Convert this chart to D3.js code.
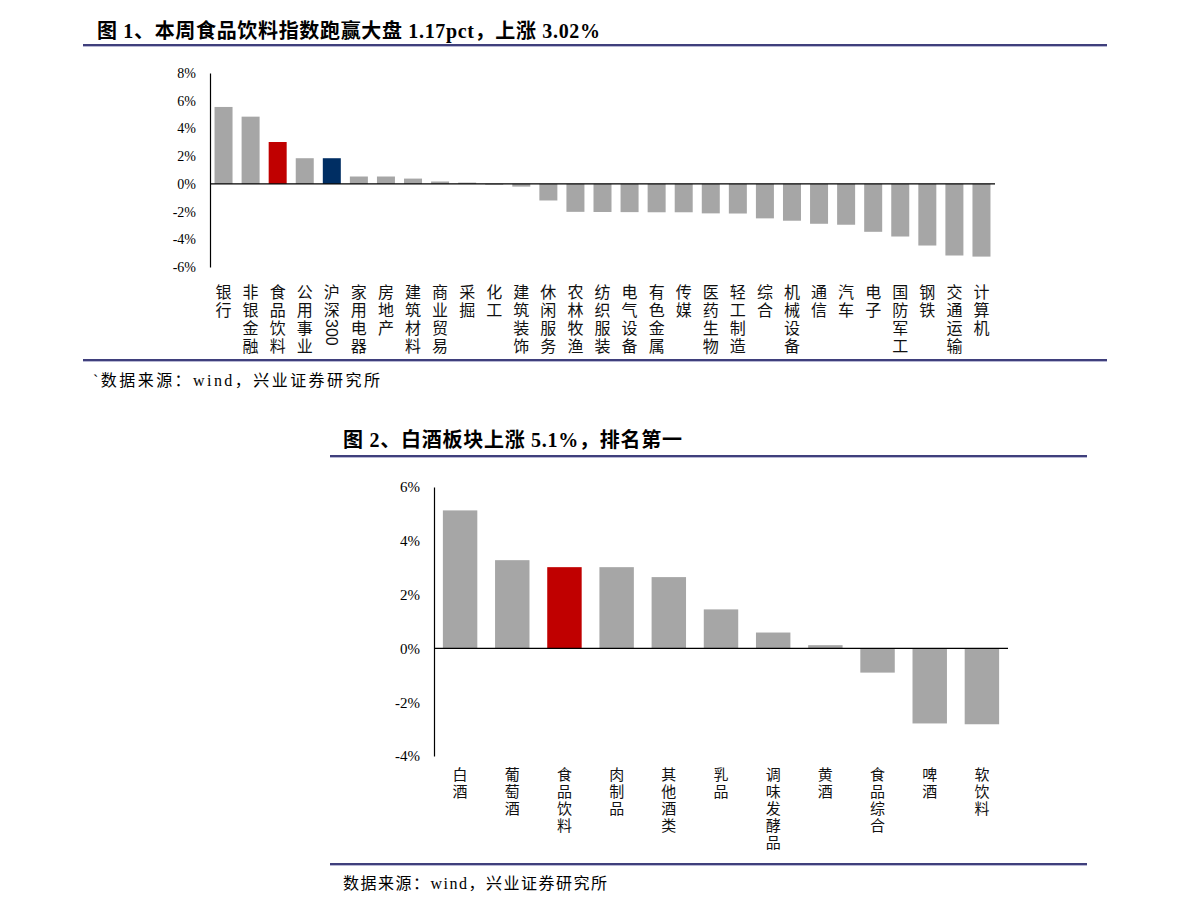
<!DOCTYPE html>
<html><head><meta charset="utf-8">
<script src="https://cdn.jsdelivr.net/npm/d3@7"></script>
<style>body{margin:0;background:#fff}</style>
</head><body><svg id="c" width="1191" height="912" xmlns="http://www.w3.org/2000/svg"></svg>
<script>
// ---------- Data ----------
const categories1 = ["银行","非银金融","食品饮料","公用事业","沪深300","家用电器","房地产","建筑材料","商业贸易","采掘","化工","建筑装饰","休闲服务","农林牧渔","纺织服装","电气设备","有色金属","传媒","医药生物","轻工制造","综合","机械设备","通信","汽车","电子","国防军工","钢铁","交通运输","计算机"];
const values1 = [5.55,4.85,3.02,1.85,1.85,0.53,0.53,0.38,0.17,0.09,-0.06,-0.2,-1.2,-2.02,-2.03,-2.04,-2.05,-2.05,-2.13,-2.14,-2.49,-2.66,-2.88,-2.95,-3.46,-3.8,-4.45,-5.17,-5.25];
const highlight1 = {"食品饮料":"#c00000","沪深300":"#002e63"};
const ticks1 = [-6,-4,-2,0,2,4,6,8];
const title1 = "图 1、本周食品饮料指数跑赢大盘 1.17pct，上涨 3.02%";
const source1 = "`数据来源：wind，兴业证券研究所";

const categories2 = ["白酒","葡萄酒","食品饮料","肉制品","其他酒类","乳品","调味发酵品","黄酒","食品综合","啤酒","软饮料"];
const values2 = [5.13,3.28,3.02,3.02,2.65,1.45,0.59,0.12,-0.9,-2.79,-2.82];
const highlight2 = {"食品饮料":"#c00000"};
const ticks2 = [-4,-2,0,2,4,6];
const title2 = "图 2、白酒板块上涨 5.1%，排名第一";
const source2 = "数据来源：wind，兴业证券研究所";

// ---------- Drawing ----------
const svg = d3.select("#c");
const GRAY = "#a6a6a6";
const RULE = "#3f3f7c";
const SERIF = "'Liberation Serif','Noto Sans CJK SC',serif";
const SANS = "'Noto Sans CJK SC','Liberation Sans',sans-serif";

function verticalLabel(g, label, x, y0, lh, fs) {
  const tokens = label.match(/\d+|./g);
  let yy = y0; // center of first cell
  tokens.forEach(tok => {
    if (/^\d+$/.test(tok)) {
      const t = g.append("text")
        .attr("transform", `translate(${x},${yy - lh/2 + 1}) rotate(90)`)
        .attr("dominant-baseline", "central")
        .attr("font-family", "'Liberation Sans',sans-serif")
        .attr("font-size", fs)
        .attr("fill", "#111")
        .text(tok);
      const len = t.node().getComputedTextLength();
      yy += len + 2;
    } else {
      g.append("text")
        .attr("x", x).attr("y", yy)
        .attr("text-anchor", "middle")
        .attr("dominant-baseline", "central")
        .attr("font-family", SANS)
        .attr("font-size", fs)
        .attr("fill", "#111")
        .text(tok);
      yy += lh;
    }
  });
}

function drawChart(cfg) {
  const g = svg.append("g");
  // title
  g.append("text").attr("x", cfg.titleX).attr("y", cfg.titleY)
    .attr("font-family", SERIF).attr("font-weight", "bold").attr("font-size", 20)
    .attr("textLength", cfg.titleW).attr("lengthAdjust", "spacing")
    .attr("fill", "#000").text(cfg.title);
  // rules
  [cfg.ruleTop, cfg.ruleBottom].forEach(ry => {
    g.append("line").attr("x1", cfg.ruleX1).attr("x2", cfg.ruleX2)
      .attr("y1", ry).attr("y2", ry).attr("stroke", RULE).attr("stroke-width", 2);
    g.append("line").attr("x1", cfg.ruleX1).attr("x2", cfg.ruleX2)
      .attr("y1", ry + 1.5).attr("y2", ry + 1.5).attr("stroke", "#b8b8d4").attr("stroke-width", 1);
  });
  // source
  g.append("text").attr("x", cfg.srcX).attr("y", cfg.srcY)
    .attr("font-family", SERIF).attr("font-size", 16)
    .attr("textLength", cfg.srcW).attr("lengthAdjust", "spacing")
    .attr("fill", "#000").text(cfg.source);

  const x = d3.scaleBand().domain(cfg.cats).range([cfg.x0, cfg.x1])
    .paddingInner(cfg.pad).paddingOuter(cfg.pad / 2);
  const y = d3.scaleLinear().domain(cfg.yDomain).range([cfg.yBottom, cfg.yTop]);

  // bars
  g.append("g").selectAll("rect").data(cfg.cats).join("rect")
    .attr("x", d => x(d))
    .attr("width", x.bandwidth())
    .attr("y", (d, i) => y(Math.max(0, cfg.vals[i])))
    .attr("height", (d, i) => Math.abs(y(cfg.vals[i]) - y(0)))
    .attr("fill", d => cfg.hl[d] || GRAY);

  // y axis
  const ax = g.append("g").attr("transform", `translate(${cfg.x0},0)`)
    .call(d3.axisLeft(y).tickValues(cfg.ticks).tickSize(0).tickSizeOuter(0)
      .tickPadding(cfg.tickPad).tickFormat(d => d + "%"));
  ax.select(".domain").attr("stroke", "#000").attr("stroke-width", 1.2);
  ax.selectAll("text").attr("font-family", SERIF).attr("font-size", cfg.tickFs).attr("fill", "#000");

  // zero line
  g.append("line").attr("x1", cfg.x0).attr("x2", cfg.x1)
    .attr("y1", y(0)).attr("y2", y(0)).attr("stroke", "#000").attr("stroke-width", 1.2);

  // category labels
  const lg = g.append("g");
  cfg.cats.forEach(c => verticalLabel(lg, c, x(c) + x.bandwidth() / 2, cfg.labelY, cfg.labelLh, cfg.labelFs));
}

drawChart({
  cats: categories1, vals: values1, hl: highlight1, ticks: ticks1,
  title: title1, titleX: 97, titleY: 38, titleW: 503,
  ruleX1: 83, ruleX2: 1107, ruleTop: 45, ruleBottom: 360,
  source: source1, srcX: 93, srcY: 386, srcW: 287,
  x0: 210, x1: 995, pad: 0.335,
  yDomain: [-6, 8], yBottom: 267, yTop: 73,
  tickPad: 14, tickFs: 14,
  labelY: 291, labelLh: 18, labelFs: 16
});

drawChart({
  cats: categories2, vals: values2, hl: highlight2, ticks: ticks2,
  title: title2, titleX: 343, titleY: 447, titleW: 339,
  ruleX1: 330, ruleX2: 1087, ruleTop: 456, ruleBottom: 864,
  source: source2, srcX: 343, srcY: 889, srcW: 264,
  x0: 434, x1: 1008, pad: 0.34,
  yDomain: [-4, 6], yBottom: 756, yTop: 487,
  tickPad: 14, tickFs: 15,
  labelY: 773, labelLh: 17, labelFs: 15
});
</script>
</body></html>
